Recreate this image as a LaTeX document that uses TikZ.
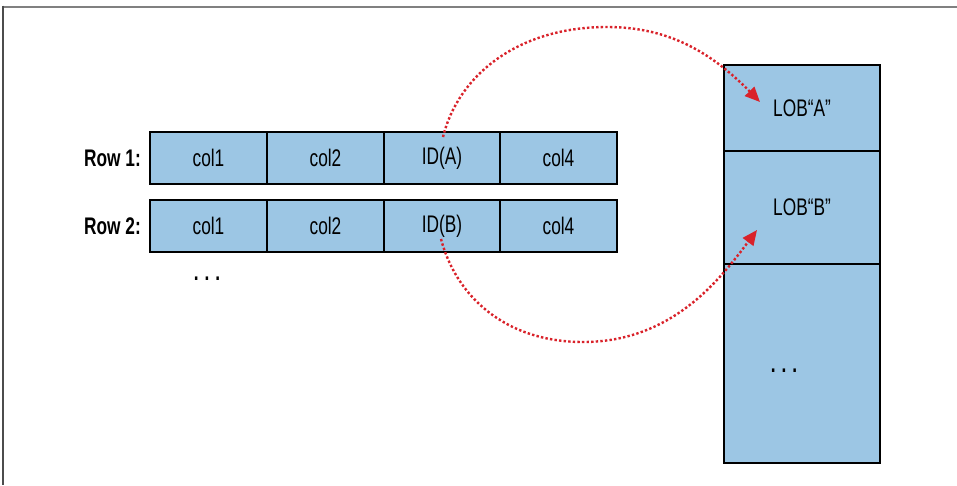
\documentclass[tikz,border=0pt]{standalone}
\usepackage{fontspec}
\setmainfont[FakeStretch=0.72]{Liberation Sans}
\usetikzlibrary{arrows.meta}
\definecolor{cellblue}{HTML}{9CC6E4}
\definecolor{arrred}{HTML}{D9222A}
\tikzset{
  cell/.style={draw=black, line width=2pt, fill=cellblue, minimum height=52pt, inner sep=0pt, font=\fontsize{24}{28}\selectfont},
  lobcell/.style={draw=black, line width=2pt, fill=cellblue, minimum width=156pt, inner sep=0pt, font=\fontsize{24}{28}\selectfont},
  rowlabel/.style={anchor=east, inner sep=0pt, font=\fontsize{24}{28}\selectfont\bfseries},
  dotsstyle/.style={inner sep=0pt, font=\fontsize{24}{28}\selectfont\bfseries},
  link/.style={draw=arrred, line width=2.4pt, dash pattern=on 2.4pt off 2.2pt, -{Triangle[length=15pt,width=13pt]}},
}
\begin{document}
\begin{tikzpicture}[x=1pt,y=-1pt]
\useasboundingbox (0,0) rectangle (957,485);
% frame
\draw[line width=2pt, color=gray] (2,6.5) -- (957,6.5);
\draw[line width=2pt, color=black!70] (2.5,5.5) -- (2.5,485);
% row 1
\node[cell, minimum width=117pt] (r1c1) at (208.5,158) {col1};
\node[cell, minimum width=117pt] (r1c2) at (325.5,158) {col2};
\node[cell, minimum width=116pt] (idA) at (442,158) {ID(A)};
\node[cell, minimum width=117pt] (r1c4) at (558.5,158) {col4};
\node[rowlabel] (row1) at (141,158) {Row 1:};
% row 2
\node[cell, minimum width=117pt] (r2c1) at (208.5,226) {col1};
\node[cell, minimum width=117pt] (r2c2) at (325.5,226) {col2};
\node[cell, minimum width=116pt] (idB) at (442,226) {ID(B)};
\node[cell, minimum width=117pt] (r2c4) at (558.5,226) {col4};
\node[rowlabel] (row2) at (141,226) {Row 2:};
\node[dotsstyle] (rowdots) at (207,279) {.\hspace{6pt}.\hspace{6pt}.};
% LOB column
\node[lobcell, minimum height=86pt] (lobA) at (802,108) {LOB“A”};
\node[lobcell, minimum height=113pt] (lobB) at (802,207.5) {LOB“B”};
\node[lobcell, minimum height=199pt] (lobC) at (802,363.5) {};
\node[dotsstyle] (lobdots) at (784,371) {.\hspace{6pt}.\hspace{6pt}.};
% arrows
\coordinate (sA) at (443,137);
\coordinate (topA) at (607,27);
\coordinate (tA) at (760,102);
\coordinate (sB) at (441,239);
\coordinate (botB) at (583,342);
\coordinate (tB) at (757,230);
\draw[link] (sA) .. controls (458,76) and (517,27) .. (topA)
  .. controls (667,27) and (710,51) .. (tA);
\draw[link] (sB) .. controls (456,296) and (505,342) .. (botB)
  .. controls (673,342) and (721,278) .. (tB);
\end{tikzpicture}
\end{document}
